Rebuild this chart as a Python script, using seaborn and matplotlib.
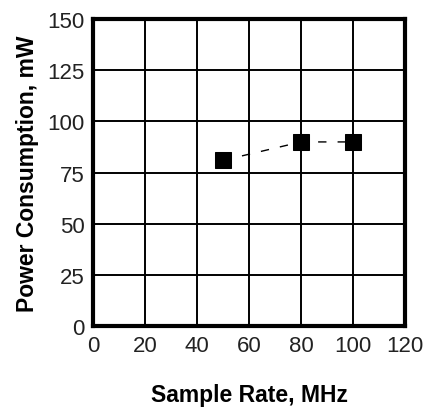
import matplotlib
matplotlib.use("Agg")
import matplotlib.pyplot as plt
import seaborn as sns
import pandas as pd

sample_rate = [50, 80, 100]
power = [81, 90, 90]
x_ticks = [0, 20, 40, 60, 80, 100, 120]
y_ticks = [0, 25, 50, 75, 100, 125, 150]

sns.set_theme(style="white")
plt.rcParams['font.family'] = ['Liberation Sans', 'DejaVu Sans']

df = pd.DataFrame({"Sample Rate, MHz": sample_rate, "Power Consumption, mW": power})

fig = plt.figure(figsize=(4.25, 4.1), dpi=100)
ax = fig.add_axes([0.219, 0.202, 0.734, 0.749])
sns.lineplot(data=df, x="Sample Rate, MHz", y="Power Consumption, mW", ax=ax,
             color="black", linestyle=(0, (6, 8)), linewidth=1.0,
             marker="s", markersize=12, markeredgecolor="black", markerfacecolor="black")
ax.set_xlim(0, 120)
ax.set_ylim(0, 150)
ax.set_xticks(x_ticks)
ax.set_yticks(y_ticks)
ax.grid(True, color="black", linewidth=1.4)
ax.tick_params(axis="both", length=0, labelsize=16, colors="#222222", pad=6)
for s in ax.spines.values():
    s.set_linewidth(3)
    s.set_color("black")
ax.set_xlabel("Sample Rate, MHz", fontsize=16.5, fontweight="bold", labelpad=20, color="black")
ax.set_ylabel("Power Consumption, mW", fontsize=16.5, fontweight="bold", labelpad=6, color="black")
fig.savefig("out.png", dpi=100)
